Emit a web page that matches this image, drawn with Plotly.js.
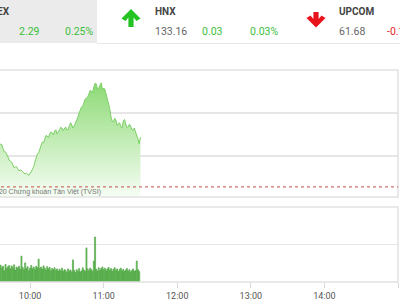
<!DOCTYPE html>
<html><head><meta charset="utf-8">
<script src="https://cdn.plot.ly/plotly-3.0.1.min.js"></script>
<style>html,body{margin:0;padding:0;background:#fff}#chart{width:400px;height:300px}</style>
</head><body><div id="chart"></div>
<script>
// VN-Index intraday (price) — times and values
const priceTimes = ["09:34","09:35","09:36","09:37","09:38","09:39","09:40","09:41","09:42","09:43","09:44","09:45","09:46","09:47","09:48","09:49",
"09:50","09:51","09:52","09:53","09:54","09:55","09:56","09:57","09:58","09:59",
"10:00","10:01","10:02","10:03","10:04","10:05","10:06","10:07","10:08","10:09","10:10","10:11","10:12","10:13","10:14","10:15","10:16","10:17","10:18","10:19",
"10:20","10:21","10:22","10:23","10:24","10:25","10:26","10:27","10:28","10:29","10:30","10:31","10:32","10:33","10:34","10:35","10:36","10:37","10:38","10:39",
"10:40","10:41","10:42","10:43","10:44","10:45","10:46","10:47","10:48","10:49","10:50","10:51","10:52","10:53","10:54","10:55","10:56","10:57","10:58","10:59",
"11:00","11:01","11:02","11:03","11:04","11:05","11:06","11:07","11:08","11:09","11:10","11:11","11:12","11:13","11:14","11:15","11:16","11:17","11:18","11:19",
"11:20","11:21","11:22","11:23","11:24","11:25","11:26","11:27","11:28","11:29","11:30"];
const priceValues = [918.65,918.50,918.56,918.52,918.33,918.20,918.19,918.10,917.95,917.80,917.77,917.72,917.58,917.45,917.49,917.50,
917.40,917.30,917.35,917.33,917.26,917.18,917.16,917.20,917.12,917.10,
917.21,917.25,917.40,917.50,917.72,917.95,918.09,918.15,918.33,918.50,918.65,918.62,918.79,918.95,918.93,918.86,919.02,919.12,919.07,918.98,
919.16,919.22,919.02,919.10,919.21,919.33,919.30,919.18,919.26,919.35,919.21,919.22,919.40,919.55,919.44,919.30,919.40,919.52,919.67,919.80,
920.00,920.20,920.28,920.33,920.51,920.65,920.70,920.75,920.88,921.05,921.02,920.95,921.21,921.38,921.35,921.10,921.16,921.30,921.40,921.08,
921.16,921.10,920.88,920.70,920.47,920.20,919.81,919.62,919.58,919.75,919.67,919.42,919.49,919.55,919.35,919.30,919.63,919.70,919.49,919.32,
919.35,919.48,919.40,919.22,919.21,919.30,919.12,918.98,918.79,918.56,918.88];
const refValue = 916.56;

// Volume (1-minute bars)
const volumeTimes = ["09:34","09:35","09:36","09:37","09:38","09:39","09:40","09:41","09:42","09:43",
"09:44","09:45","09:46","09:47","09:48","09:49","09:50","09:51","09:52","09:53",
"09:54","09:55","09:56","09:57","09:58","09:59","10:00","10:01","10:02","10:03",
"10:04","10:05","10:06","10:07","10:08","10:09","10:10","10:11","10:12","10:13",
"10:14","10:15","10:16","10:17","10:18","10:19","10:20","10:21","10:22","10:23",
"10:24","10:25","10:26","10:27","10:28","10:29","10:30","10:31","10:32","10:33",
"10:34","10:35","10:36","10:37","10:38","10:39","10:40","10:41","10:42","10:43",
"10:44","10:45","10:46","10:47","10:48","10:49","10:50","10:51","10:52","10:53",
"10:54","10:55","10:56","10:57","10:58","10:59","11:00","11:01","11:02","11:03",
"11:04","11:05","11:06","11:07","11:08","11:09","11:10","11:11","11:12","11:13",
"11:14","11:15","11:16","11:17","11:18","11:19","11:20","11:21","11:22","11:23",
"11:24","11:25","11:26","11:27","11:28","11:29"];
const volumeValues = [0.40,0.33,0.45,0.38,0.42,0.30,0.47,0.36,0.41,0.44,
0.35,0.43,0.38,0.46,0.32,0.40,0.37,0.42,0.34,0.69,
0.39,0.33,0.51,0.36,0.41,0.30,0.37,0.44,0.35,0.40,
0.33,0.42,0.38,0.61,0.36,0.40,0.34,0.43,0.37,0.32,
0.41,0.35,0.39,0.30,0.36,0.33,0.38,0.31,0.35,0.29,
0.34,0.30,0.37,0.28,0.33,0.31,0.26,0.35,0.29,0.32,
0.27,0.59,0.31,0.25,0.33,0.29,0.36,0.27,0.30,0.38,
0.32,0.28,0.91,0.35,0.30,0.37,0.33,0.29,0.56,1.20,
0.34,0.29,0.38,0.31,0.36,0.40,0.33,0.37,0.30,0.35,
0.39,0.32,0.36,0.29,0.34,0.38,0.31,0.35,0.28,0.33,
0.37,0.30,0.34,0.28,0.32,0.36,0.29,0.33,0.27,0.31,
0.35,0.29,0.30,0.56,0.33,0.28];

const tickLabels = ["10:00","11:00","12:00","13:00","14:00","15:00"];

// Header index board
const boardNames = ["VNINDEX","HNX","UPCOM"];
const boardValues = ["918.88","133.16","61.68"];
const boardChanges = ["2.29","0.03","-0.12"];
const boardPercents = ["0.25%","0.03%","-0.19%"];

const D = "2020-01-01 ";
const ts = a => a.map(t => D + t + ":00");

const W = 398, T = 70, B = 282, H = B - T;
const px = x => x / W;
const py = y => (B - y) / H;

const priceTrace = {
  x: ts(priceTimes), y: priceValues, type: "scatter", mode: "lines",
  xaxis: "x2", yaxis: "y2",
  line: {color: "#7ccf67", width: 1},
  fill: "tozeroy",
  fillgradient: {type: "vertical", start: 916.1, stop: 921.4,
    colorscale: [[0, "rgb(246,253,244)"], [1, "rgb(140,218,116)"]]},
  hoverinfo: "skip"
};
const volTrace = {
  x: ts(volumeTimes), y: volumeValues, type: "bar",
  xaxis: "x", yaxis: "y",
  marker: {color: "#7dcc6c", line: {color: "#3d9a33", width: 0.6}},
  hoverinfo: "skip"
};

const green = "#3cbf3c", red = "#e0262b", dark = "#444", grey = "#666";
const ann = (x, y, text, color, size, bold, anchor, family) => ({
  xref: "paper", yref: "paper", x: px(x), y: py(y), text: bold ? "<b>" + text + "</b>" : text,
  showarrow: false, xanchor: anchor || "left", yanchor: "middle",
  font: {family: family || "Roboto, Arial, sans-serif", size: size, color: color}
});

const annotations = [
  ann(12, 12, boardNames[0], dark, 10, true, "right"),
  ann(17, 31, boardChanges[0], green, 10.5),
  ann(63, 31, boardPercents[0], green, 10.5),
  ann(153, 12, boardNames[1], dark, 10, true),
  ann(153, 31, boardValues[1], grey, 10.5),
  ann(200, 31, boardChanges[1], green, 10.5),
  ann(248, 31, boardPercents[1], green, 10.5),
  ann(337, 12, boardNames[2], dark, 10, true),
  ann(337, 31, boardValues[2], grey, 10.5),
  ann(385, 31, boardChanges[2], red, 10.5),
  ann(103, 192, "© 2020 Chứng khoán Tân Việt (TVSI)", "#777", 7, false, "right", "Arial, 'Liberation Sans', sans-serif")
];

const pathFrom = pts => "M" + pts.map(p => px(p[0]) + "," + py(p[1])).join(" L") + " Z";
const upArrow = [[131,9],[140.5,18.5],[136.5,21],[133.6,17.6],[133.6,27],[128.4,27],[128.4,17.6],[125.5,21],[121.5,18.5]];
const downArrow = [[316,27.5],[325.5,18],[321.5,15.5],[318.6,19],[318.6,12],[313.4,12],[313.4,19],[310.5,15.5],[306.5,18]];

const frame = "#e2e2e2";
const shapes = [
  {type: "rect", xref: "paper", yref: "paper", x0: px(-5), x1: px(97), y0: py(43), y1: py(-5),
   fillcolor: "#ebebeb", line: {width: 0}, layer: "below"},
  {type: "line", xref: "paper", yref: "paper", x0: px(97), x1: px(405), y0: py(43.5), y1: py(43.5),
   line: {color: "#e6e6e6", width: 1}},
  {type: "path", xref: "paper", yref: "paper", path: pathFrom(upArrow), fillcolor: "#22c322", line: {width: 0}},
  {type: "path", xref: "paper", yref: "paper", path: pathFrom(downArrow), fillcolor: "#e8141b", line: {width: 0}},
  {type: "rect", xref: "paper", yref: "paper", x0: px(-5), x1: 1, y0: py(197), y1: 1,
   fillcolor: "rgba(0,0,0,0)", line: {color: frame, width: 1.5}},
  {type: "rect", xref: "paper", yref: "paper", x0: px(-5), x1: 1, y0: 0, y1: py(207),
   fillcolor: "rgba(0,0,0,0)", line: {color: frame, width: 1.5}},
  {type: "line", xref: "paper", yref: "y2", x0: px(-5), x1: 1, y0: refValue, y1: refValue,
   line: {color: "#c0504d", width: 1, dash: "dot"}}
];

const xrange = [D + "09:35:30", D + "15:00:00"];
const layout = {
  width: 400, height: 300,
  margin: {l: 0, r: 2, t: T, b: 300 - B, pad: 0},
  paper_bgcolor: "#fff", plot_bgcolor: "rgba(0,0,0,0)",
  showlegend: false, bargap: 0.15,
  xaxis: {type: "date", range: xrange, domain: [0, 1], anchor: "y",
    tickvals: tickLabels.map(t => D + t + ":00"), ticktext: tickLabels,
    ticks: "outside", ticklen: 5, tickcolor: "#d8d8d8", showgrid: false, zeroline: false,
    showline: false, tickfont: {family: "Roboto, Arial, sans-serif", size: 9, color: "#555"}},
  xaxis2: {type: "date", range: xrange, domain: [0, 1], anchor: "y2", matches: "x",
    showticklabels: false, ticks: "", showgrid: false, zeroline: false, showline: false},
  yaxis: {domain: [0, py(207)], range: [0, 2], tickvals: [1], showticklabels: false,
    gridcolor: "#e6e6e6", gridwidth: 1.2, zeroline: false, ticks: "", showline: false},
  yaxis2: {domain: [py(197), 1], range: [916.09, 922], tickvals: [918, 920], showticklabels: false,
    gridcolor: "#e6e6e6", gridwidth: 1.2, zeroline: false, ticks: "", showline: false},
  annotations: annotations, shapes: shapes
};

Plotly.newPlot("chart", [priceTrace, volTrace], layout, {staticPlot: true, displayModeBar: false});
</script></body></html>
